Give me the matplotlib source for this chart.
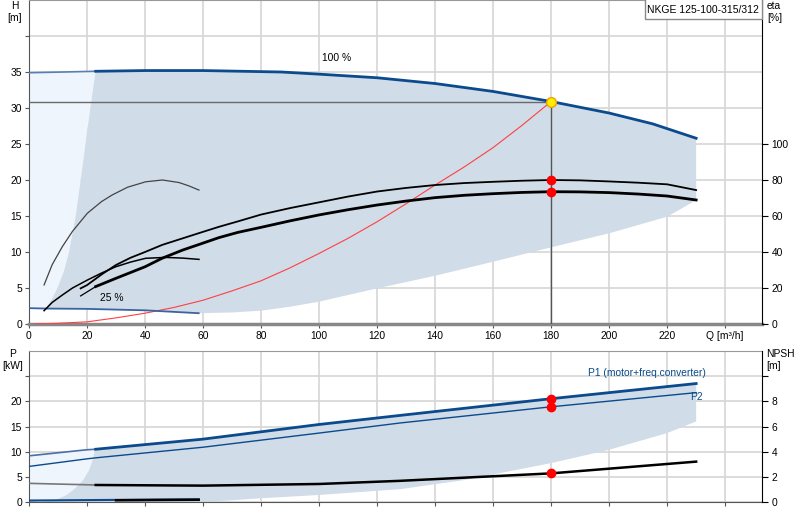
import numpy as np
import matplotlib
matplotlib.use("Agg")
import matplotlib.pyplot as plt
from matplotlib.patches import Rectangle

plt.rcParams['font.family'] = ['Liberation Sans', 'DejaVu Sans']
plt.rcParams['font.size'] = 7.4

# pump curve data
# head at 100 % speed (H [m])
q_100 = [0, 12, 23, 40, 60, 87, 100, 120, 140, 160, 180, 200, 215, 230]
h_100 = [34.9, 35.0, 35.1, 35.2, 35.2, 35.0, 34.7, 34.2, 33.4, 32.3, 30.9, 29.3, 27.8, 25.8]

# head at 25 % speed
q_25 = [0, 5.5, 20, 40, 58.5]
h_25 = [2.2, 2.15, 2.1, 1.9, 1.5]

# left (min flow) edge of the operating area
q_edge = [5.5, 7.8, 9.8, 12.0, 13.8, 16.1, 17.8, 19.2, 20.8, 22.2, 23.0]
h_edge = [2.05, 3.4, 5.0, 7.3, 10.0, 15.0, 20.0, 24.2, 29.0, 33.0, 35.1]

# lower right edge of the operating area
q_low = [58.5, 70, 80, 90, 100, 120, 140, 160, 180, 200, 220, 230]
h_low = [1.5, 1.6, 1.85, 2.4, 3.1, 4.95, 6.7, 8.65, 10.65, 12.6, 14.9, 17.2]

# system curve
q_sys = [2, 10, 20, 30, 40, 50, 60, 70, 80, 90, 100, 110, 120, 130, 140, 150, 160, 170, 180]
h_sys = [0, 0.1, 0.3, 0.85, 1.5, 2.3, 3.3, 4.6, 6.0, 7.8, 9.8, 11.9, 14.2, 16.7, 19.3, 21.8, 24.5, 27.6, 30.9]

# efficiencies (eta [%])
q_eta_p = [17.8, 20, 25, 30, 35, 40, 46, 53, 59, 65.5, 72, 80, 90, 100, 110, 120, 130, 140, 150, 160, 170, 180, 190, 200, 210, 220, 230]
eta_p = [19.8, 21.6, 27.5, 32.8, 36.8, 40.0, 44.0, 47.6, 50.7, 54.0, 57.0, 60.8, 64.4, 67.6, 70.8, 73.6, 75.6, 77.2, 78.3, 79.0, 79.6, 80.0, 79.8, 79.2, 78.5, 77.6, 74.4]
q_eta_t = [17.8, 23, 30, 40, 46, 53, 59, 65.5, 72, 80, 90, 100, 110, 120, 130, 140, 150, 160, 170, 180, 190, 200, 210, 220, 230]
eta_t = [15.6, 20.8, 25.4, 31.8, 36.6, 41.1, 44.4, 48.0, 50.9, 53.7, 57.3, 60.6, 63.5, 66.1, 68.3, 70.2, 71.5, 72.4, 73.1, 73.5, 73.4, 73.0, 72.2, 71.1, 68.9]
q_eta_p25 = [5.2, 8, 11.5, 15, 20.1, 25, 28.7, 34, 40.2, 46, 51.7, 55, 58.6]
eta_p25 = [21.7, 33.0, 43.0, 51.5, 61.5, 68.0, 71.7, 76.0, 79.0, 80.0, 78.6, 76.8, 74.4]
q_eta_t25 = [5.2, 8, 11.5, 15, 20.1, 25, 29.9, 35, 40.2, 47.1, 53, 58.6]
eta_t25 = [7.4, 12.0, 16.1, 20.0, 24.4, 28.3, 31.8, 34.4, 36.5, 37.0, 36.6, 35.9]

# duty point
q_duty = 180
h_duty = 30.9
eta_duty = [80.0, 73.5]

# power (P [kW])
q_p = [0, 20, 23, 60, 100, 128, 180, 230]
p1 = [9.2, 10.4, 10.5, 12.5, 15.4, 17.2, 20.5, 23.5]
p2 = [7.1, 8.6, 8.8, 10.9, 13.7, 15.7, 18.9, 21.7]
p_duty = [20.5, 18.9]
q_p_edge = [4, 9, 13, 16, 18.7, 20.4, 21.6, 22.8, 23]
p_edge = [0, 0.4, 1.45, 2.8, 4.4, 6.0, 7.75, 10.4, 10.5]
q_p_low = [58, 70, 80, 100, 128, 150, 180, 200, 220, 230]
p_low = [0, 0.4, 0.8, 1.45, 2.6, 4.4, 7.75, 10.4, 13.7, 16.0]
q_p25 = [0, 58.5]
p1_25 = [0.35, 0.6]
q_p25b = [30, 58.5]
p_25b = [0.4, 0.5]

# NPSH [m]
q_npsh = [0, 23, 60, 100, 128, 180, 230]
npsh = [1.5, 1.37, 1.32, 1.45, 1.7, 2.29, 3.22]
npsh_duty = 2.29

blue = '#0b4a8c'
shade = '#d0dce8'
light = '#eef5fc'
grid = '#d6d6d6'

fig = plt.figure(figsize=(8, 5.2), dpi=100)
ax = fig.add_axes([29/800, 1 - 324/520, 733/800, 324/520])
ax2 = fig.add_axes([29/800, 1 - 502.3/520, 733/800, 151.6/520])

xmax = 252.7
for a in (ax, ax2):
    a.set_xlim(0, xmax)
    a.set_xticks(np.arange(0, 241, 20))
    a.grid(True, color=grid, lw=1.2)
    a.set_axisbelow(True)
    a.spines['left'].set_color('#555555')
    a.spines['top'].set_color('#999999')
    a.spines['right'].set_visible(False)
    a.tick_params(length=3, width=0.8, color='#555555', pad=2)

# ---- top: head and efficiency ----
ax.set_ylim(0, 45)
ax.set_yticks(np.arange(0, 41, 5))
ax.set_yticklabels([str(v) for v in range(0, 36, 5)] + [''])
ax.set_xticklabels([str(v) for v in range(0, 221, 20)] + ['Q [m³/h]'])
ax.spines['bottom'].set_color('#888888')
ax.spines['bottom'].set_linewidth(2.5)

h100_edge = np.interp(q_edge[-1], q_100, h_100)
# light area left of min flow
lq = [x for x in q_100 if x < q_edge[-1]] + [q_edge[-1]] + q_edge[::-1] + [0]
lh = [h for x, h in zip(q_100, h_100) if x < q_edge[-1]] + [h100_edge] + h_edge[::-1] + [h_25[0]]
ax.fill(lq, lh, color=light, lw=0, zorder=1)

# operating area
top_q = [q_edge[-1]] + [x for x in q_100 if x > q_edge[-1]]
top_h = [h100_edge] + [h for x, h in zip(q_100, h_100) if x > q_edge[-1]]
mid_q = [x for x in q_25 if x > q_edge[0]][::-1]
mid_h = [h for x, h in zip(q_25, h_25) if x > q_edge[0]][::-1]
pq = top_q + q_low[::-1] + mid_q + q_edge
ph = top_h + h_low[::-1] + mid_h + h_edge
ax.fill(pq, ph, color=shade, lw=0, zorder=1)

ax.plot([0, q_duty], [h_duty, h_duty], color='#6a6a6a', lw=1, zorder=3)
ax.plot([q_duty, q_duty], [0, h_duty], color='#555555', lw=1, zorder=3)
ax.plot(q_sys, h_sys, color='#ff4040', lw=0.8, zorder=4)

ax.plot(q_100[:3], h_100[:3], color='#5a7fae', lw=1.2, zorder=4)
ax.plot(q_100[2:], h_100[2:], color=blue, lw=2, zorder=4)
ax.plot(q_25, h_25, color='#3a64a0', lw=1.3, zorder=4)

axr = ax.twinx()
axr.set_ylim(0, 180)
axr.set_yticks(np.arange(0, 101, 20))
axr.spines['left'].set_visible(False)
axr.spines['top'].set_visible(False)
axr.spines['bottom'].set_visible(False)
axr.spines['right'].set_color('black')
axr.tick_params(length=4, width=0.8, pad=3)
axr.plot(q_eta_p25, eta_p25, color='#444444', lw=0.9)
axr.plot(q_eta_t25, eta_t25, color='black', lw=1.1)
axr.plot(q_eta_p, eta_p, color='black', lw=1.3)
axr.plot(q_eta_t[:2], eta_t[:2], color='black', lw=0.9)
axr.plot(q_eta_t[1:], eta_t[1:], color='black', lw=2)
axr.plot([q_duty] * 2, eta_duty, 'o', color='red', ms=6, zorder=6)
axr.plot(q_duty, h_duty * 4, 'o', mfc='#ffee00', mec='#f0a000', ms=7, mew=1, zorder=6)

ax.text(106, 36.3, '100 %', ha='center', va='bottom')
ax.text(28.6, 3.6, '25 %', ha='center', va='center')

# ---- bottom: power and NPSH ----
ax2.set_ylim(0, 30)
ax2.set_yticks(np.arange(0, 26, 5))
ax2.set_yticklabels([str(v) for v in range(0, 21, 5)] + [''])
ax2.set_xticklabels([])
ax2.spines['bottom'].set_color('#555555')

p1_edge = np.interp(q_p_edge[-1], q_p, p1)
lq2 = [0, 20, q_p_edge[-1]] + q_p_edge[::-1] + [0]
lp2 = [p1[0], p1[1], p1_edge] + p_edge[::-1] + [p1_25[0]]
ax2.fill(lq2, lp2, color=light, lw=0, zorder=1)
tq2 = [q_p_edge[-1]] + [x for x in q_p if x > q_p_edge[-1]]
tp2 = [p1_edge] + [v for x, v in zip(q_p, p1) if x > q_p_edge[-1]]
ax2.fill(tq2 + q_p_low[::-1] + q_p_edge, tp2 + p_low[::-1] + p_edge, color=shade, lw=0, zorder=1)

ax2.plot(q_p[:3], p1[:3], color='#4a70a4', lw=1.2, zorder=4)
ax2.plot(q_p[2:], p1[2:], color=blue, lw=2, zorder=4)
ax2.plot(q_p, p2, color=blue, lw=1, zorder=4)
ax2.plot(q_p25, p1_25, color=blue, lw=1.5, zorder=4)
ax2.plot(q_p25b, p_25b, color='black', lw=1.8, zorder=4)
ax2.plot([q_duty] * 2, p_duty, 'o', color='red', ms=6, zorder=6)
ax2.text(213, 24.6, 'P1 (motor+freq.converter)', color=blue, ha='center', va='bottom')
ax2.text(230, 20.8, 'P2', color=blue, ha='center', va='center')

ax2r = ax2.twinx()
ax2r.set_ylim(0, 12)
ax2r.set_yticks(np.arange(0, 11, 2))
ax2r.set_yticklabels([str(v) for v in range(0, 9, 2)] + [''])
for s in ('left', 'top', 'bottom'):
    ax2r.spines[s].set_visible(False)
ax2r.spines['right'].set_color('black')
ax2r.tick_params(length=4, width=0.8, pad=3)
ax2r.plot(q_npsh[:2], npsh[:2], color='#777777', lw=1.2)
ax2r.plot(q_npsh[1:], npsh[1:], color='black', lw=1.8)
ax2r.plot(q_duty, npsh_duty, 'o', color='red', ms=6, zorder=6)

# axis titles
fig.text(15/800, 1 - 1/520, 'H\n[m]', ha='center', va='top', linespacing=1.3)
fig.text(767/800, 1 - 1/520, 'eta\n[%]', ha='left', va='top', linespacing=1.3)
fig.text(13/800, 1 - 349/520, 'P\n[kW]', ha='center', va='top', linespacing=1.3)
fig.text(766/800, 1 - 349/520, 'NPSH\n[m]', ha='left', va='top', linespacing=1.3)

# product name box
fig.patches.append(Rectangle((645/800, 1 - 19/520), 117/800, 19/520 + 0.01,
                             transform=fig.transFigure, facecolor='white',
                             edgecolor='#8a8a8a', lw=1, zorder=10))
fig.text(703/800, 1 - 10/520, 'NKGE 125-100-315/312', ha='center', va='center',
         fontsize=7.5, zorder=11)

fig.savefig('out.png', dpi=100)
